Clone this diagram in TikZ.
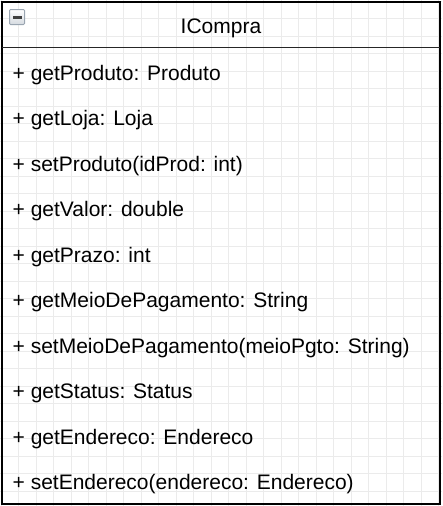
\documentclass[tikz,border=0pt]{standalone}
\usepackage{fontspec}
\setmainfont{Liberation Sans}
\definecolor{gridgray}{HTML}{EBEBEB}
\definecolor{iconedge}{HTML}{9AA5B1}
\definecolor{iconfill}{HTML}{D5DAE0}
\tikzset{
  gridline/.style={gridgray, line width=0.8pt},
  member/.style={anchor=base west, inner sep=0pt, font=\fontsize{21}{25}\selectfont},
  classtitle/.style={anchor=base, inner sep=0pt, font=\fontsize{21}{25}\selectfont},
}
\begin{document}
\begin{tikzpicture}[x=1pt, y=-1pt]
    \useasboundingbox (0,0) rectangle (442,506);
    % background grid
    \foreach \k in {0,...,25} \draw[gridline] (1+17.5*\k,0) -- (1+17.5*\k,506);
    \foreach \k in {0,...,28} \draw[gridline] (0,1+17.5*\k) -- (442,1+17.5*\k);
    % class box
    \draw[line width=2pt] (2,2) rectangle (440,504);
    \draw[line width=1.6pt, black!85] (2,47.5) -- (440,47.5);
    % collapse icon
    \shade[top color=white, bottom color=iconfill, draw=iconedge, line width=1pt, rounded corners=1pt] (9.5,9.5) rectangle (24.5,24.5);
    \fill[black!75] (12.5,15.8) rectangle (21.5,18.6);
    \node[classtitle] (title) at (221,33) {ICompra};
    \foreach \m [count=\i from 0] in {%
        {+ getProduto: Produto},
        {+ getLoja: Loja},
        {+ setProduto(idProd: int)},
        {+ getValor: double},
        {+ getPrazo: int},
        {+ getMeioDePagamento: String},
        {+ setMeioDePagamento(meioPgto: String)},
        {+ getStatus: Status},
        {+ getEndereco: Endereco},
        {+ setEndereco(endereco: Endereco)}}
        \node[member] (m\i) at (12.5,80+45.5*\i) {\m};
\end{tikzpicture}
\end{document}
